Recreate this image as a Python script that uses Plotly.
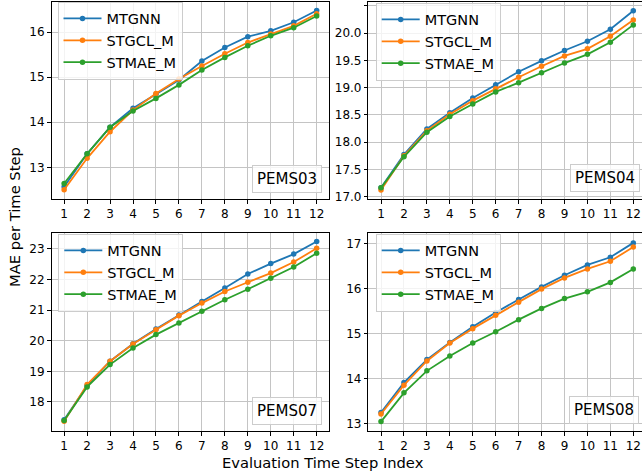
import plotly.graph_objects as go

steps = list(range(1, 13))
series_names = ["MTGNN", "STGCL_M", "STMAE_M"]
colors = ["#1f77b4", "#ff7f0e", "#2ca02c"]

pems03_mtgnn = [12.57, 13.30, 13.89, 14.31, 14.62, 14.94, 15.36, 15.66, 15.90, 16.03, 16.22, 16.48]
pems03_stgcl = [12.50, 13.20, 13.79, 14.27, 14.64, 14.96, 15.25, 15.52, 15.77, 15.96, 16.14, 16.41]
pems03_stmae = [12.64, 13.30, 13.89, 14.25, 14.53, 14.83, 15.16, 15.44, 15.70, 15.92, 16.10, 16.36]

pems04_mtgnn = [17.16, 17.77, 18.24, 18.54, 18.81, 19.05, 19.29, 19.49, 19.68, 19.85, 20.07, 20.41]
pems04_stgcl = [17.12, 17.75, 18.21, 18.51, 18.76, 18.98, 19.19, 19.39, 19.58, 19.71, 19.94, 20.24]
pems04_stmae = [17.16, 17.73, 18.18, 18.47, 18.70, 18.92, 19.09, 19.27, 19.45, 19.61, 19.83, 20.15]

pems07_mtgnn = [17.42, 18.53, 19.33, 19.90, 20.38, 20.84, 21.28, 21.72, 22.18, 22.52, 22.83, 23.24]
pems07_stgcl = [17.37, 18.57, 19.33, 19.89, 20.36, 20.82, 21.23, 21.61, 21.91, 22.21, 22.57, 23.02]
pems07_stmae = [17.39, 18.49, 19.22, 19.76, 20.20, 20.58, 20.96, 21.34, 21.68, 22.04, 22.41, 22.86]

pems08_mtgnn = [13.24, 13.91, 14.42, 14.80, 15.15, 15.47, 15.76, 16.04, 16.30, 16.53, 16.70, 17.02]
pems08_stgcl = [13.21, 13.85, 14.39, 14.79, 15.11, 15.41, 15.70, 15.99, 16.24, 16.44, 16.61, 16.93]
pems08_stmae = [13.04, 13.68, 14.17, 14.50, 14.79, 15.04, 15.31, 15.56, 15.78, 15.93, 16.14, 16.44]

datasets = ["PEMS03", "PEMS04", "PEMS07", "PEMS08"]
data = [
    [pems03_mtgnn, pems03_stgcl, pems03_stmae],
    [pems04_mtgnn, pems04_stgcl, pems04_stmae],
    [pems07_mtgnn, pems07_stgcl, pems07_stmae],
    [pems08_mtgnn, pems08_stgcl, pems08_stmae],
]

W, H = 642, 476
FONT = "DejaVu Sans"

# panel geometry in pixels (left, right, top, bottom)
panels = [
    (51.5, 329.3, 2.0, 199.3),
    (368.4, 642.0, 2.0, 199.3),
    (51.5, 329.3, 233.0, 431.0),
    (368.4, 642.0, 233.0, 431.0),
]
xranges = [[0.45, 12.55], [0.45, 12.38], [0.45, 12.55], [0.45, 12.38]]
yranges = [[12.29, 16.67], [16.95, 20.57], [17.05, 23.52], [12.83, 17.24]]
yticks = [
    [13, 14, 15, 16],
    [17.0, 17.5, 18.0, 18.5, 19.0, 19.5, 20.0, 20.5],
    [18, 19, 20, 21, 22, 23],
    [13, 14, 15, 16, 17],
]
ytickfmt = ["d", ".1f", "d", "d"]
legend_pos = [(57.5, 1.5), (375.7, 2.5), (58.3, 233.5), (375.7, 233.5)]
label_pos = [(321.7, 192.7), (640.0, 192.3), (321.7, 425.0), (639.3, 424.3)]

fig = go.Figure()
layout = dict(
    width=W, height=H,
    margin=dict(l=0, r=0, t=0, b=0),
    paper_bgcolor="white", plot_bgcolor="white",
    font=dict(family=FONT, size=12, color="black"),
    showlegend=True,
)
annotations = []

for i in range(4):
    sfx = "" if i == 0 else str(i + 1)
    xa = "x" + sfx
    ya = "y" + sfx
    lg = "legend" + sfx
    for j in range(3):
        fig.add_trace(go.Scatter(
            x=steps, y=data[i][j], name=series_names[j], mode="lines+markers",
            line=dict(color=colors[j], width=1.8),
            marker=dict(color=colors[j], size=5.5, symbol="circle"),
            xaxis=xa, yaxis=ya, legend=lg,
        ))
    l, r, t, b = panels[i]
    layout["xaxis" + sfx] = dict(
        domain=[l / W, r / W], range=xranges[i], anchor=ya,
        tickmode="array", tickvals=steps, ticktext=[str(s) for s in steps],
        showgrid=True, gridcolor="#c4c4c4", gridwidth=1,
        showline=True, linecolor="black", linewidth=1, mirror=True,
        ticks="outside", ticklen=3.5, tickwidth=0.8, tickcolor="black",
        tickfont=dict(family=FONT, size=12, color="black"),
        zeroline=False, automargin=False, fixedrange=True,
    )
    layout["yaxis" + sfx] = dict(
        domain=[1 - b / H, 1 - t / H], range=yranges[i], anchor=xa,
        tickmode="array", tickvals=yticks[i],
        tickformat=ytickfmt[i],
        showgrid=True, gridcolor="#c4c4c4", gridwidth=1,
        showline=True, linecolor="black", linewidth=1,
        mirror=(i in (0, 2)),
        ticks="outside", ticklen=3.5, tickwidth=0.8, tickcolor="black",
        tickfont=dict(family=FONT, size=12, color="black"),
        zeroline=False, automargin=False, fixedrange=True,
    )
    lx, ly = legend_pos[i]
    layout[lg] = dict(
        x=lx / W, y=1 - ly / H, xanchor="left", yanchor="top",
        xref="paper", yref="paper",
        bgcolor="rgba(255,255,255,0.8)", bordercolor="#cccccc", borderwidth=1,
        font=dict(family=FONT, size=14.5, color="black"),
        itemwidth=38,
    )
    ax, ay = label_pos[i]
    annotations.append(dict(
        text=datasets[i], xref="paper", yref="paper",
        x=ax / W, y=1 - ay / H, xanchor="right", yanchor="bottom",
        showarrow=False, font=dict(family=FONT, size=15, color="black"),
        bgcolor="rgba(255,255,255,0.8)", bordercolor="#cccccc", borderwidth=1,
        borderpad=4,
    ))

annotations.append(dict(
    text="Evaluation Time Step Index", xref="paper", yref="paper",
    x=322.5 / W, y=1 - 462 / H, xanchor="center", yanchor="middle",
    showarrow=False, font=dict(family=FONT, size=14.7, color="black"),
))
annotations.append(dict(
    text="MAE per Time Step", xref="paper", yref="paper",
    x=15 / W, y=1 - 217 / H, xanchor="center", yanchor="middle",
    textangle=-90, showarrow=False, font=dict(family=FONT, size=14.7, color="black"),
))
layout["annotations"] = annotations

fig.update_layout(**layout)
fig.write_html(
    "out.html",
    config={"displayModeBar": False},
    post_script="document.body.style.margin='0';document.body.style.overflow='hidden';",
)
